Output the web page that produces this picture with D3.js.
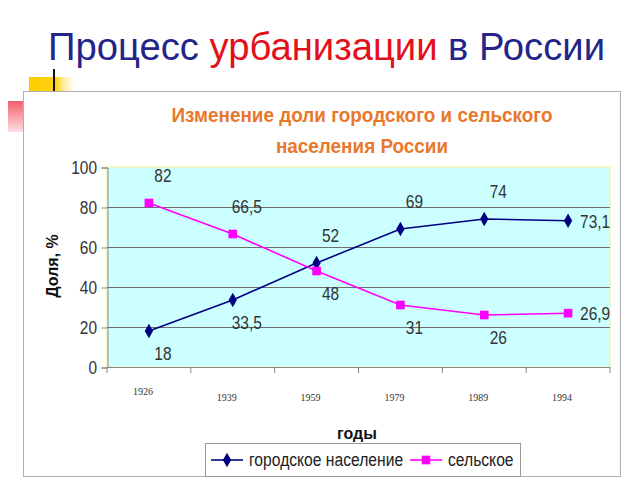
<!DOCTYPE html>
<html><head><meta charset="utf-8">
<script src="https://cdn.jsdelivr.net/npm/d3@7"></script>
<style>body{margin:0;background:#fff}svg{display:block}</style>
</head><body>
<script>
const years = ["1926","1939","1959","1979","1989","1994"];
const urban = [18, 33.5, 52, 69, 74, 73.1];
const rural = [82, 66.5, 48, 31, 26, 26.9];
const yTicks = [0, 20, 40, 60, 80, 100];
const seriesNames = ["городское население", "сельское"];
const titleParts = ["Процесс ", "урбанизации", " в России"];
const chartTitle = ["Изменение доли городского и сельского", "населения России"];
const yTitle = "Доля, %";
const xTitle = "годы";

const W = 640, H = 480;
const SANS = "Liberation Sans, Arial, sans-serif";
const svg = d3.select("body").append("svg").attr("width", W).attr("height", H);
const defs = svg.append("defs");
const gy = defs.append("linearGradient").attr("id","gy");
gy.append("stop").attr("offset","0%").attr("stop-color","#ffcc00");
gy.append("stop").attr("offset","55%").attr("stop-color","#ffd21a");
gy.append("stop").attr("offset","100%").attr("stop-color","#fff").attr("stop-opacity",0);
const gr = defs.append("linearGradient").attr("id","gr").attr("x1",0).attr("y1",0).attr("x2",0).attr("y2",1);
gr.append("stop").attr("offset","0%").attr("stop-color","#f2606a");
gr.append("stop").attr("offset","100%").attr("stop-color","#fde0e2");

// narrow text helper: places text at (x,y) and compresses it horizontally
function narrow(parent, x0, y0, sx, txt, size, anchor, fill, weight) {
  return parent.append("text")
    .attr("transform", `translate(${x0},${y0}) scale(${sx},1)`)
    .attr("text-anchor", anchor || "start")
    .attr("font-family", SANS).attr("font-size", size)
    .attr("font-weight", weight || "normal")
    .attr("fill", fill || "#333").text(txt);
}

// decorations
svg.append("rect").attr("x",29).attr("y",77).attr("width",50).attr("height",14).attr("fill","url(#gy)");
svg.append("rect").attr("x",8).attr("y",101).attr("width",15).attr("height",31).attr("fill","url(#gr)");
svg.append("line").attr("x1",54).attr("x2",54).attr("y1",69).attr("y2",91).attr("stroke","#111").attr("stroke-width",2);

// main title
const tt = svg.append("text").attr("x",48).attr("y",60)
  .attr("font-family",SANS).attr("font-size",38)
  .attr("textLength",557).attr("lengthAdjust","spacingAndGlyphs");
const tcols = ["#24248a","#e3101c","#24248a"];
titleParts.forEach((p,i)=> tt.append("tspan").attr("fill",tcols[i]).text(p));

// chart frame
svg.append("rect").attr("x",23.5).attr("y",91.5).attr("width",597).attr("height",385)
  .attr("fill","#fff").attr("stroke","#b0b0b0");

// chart title
chartTitle.forEach((t,i)=> narrow(svg, 362, 122+i*31, 0.9, t, 21, "middle", "#e8782c", "bold"));

const x = d3.scaleBand().domain(years).range([107,610]).padding(0);
const y = d3.scaleLinear().domain([0,100]).range([367,167]);
const cx = d => x(d) + x.bandwidth()/2;

// plot area
svg.append("rect").attr("x",107).attr("y",167).attr("width",503).attr("height",200)
  .attr("fill","#ccffff").attr("stroke","#f4f4b8").attr("stroke-width",1.5);
svg.selectAll(".grid").data(yTicks.filter(t=>t>0 && t<100)).join("line")
  .attr("x1",107).attr("x2",610).attr("y1",d=>y(d)+0.5).attr("y2",d=>y(d)+0.5)
  .attr("stroke","#6e6e6e").attr("stroke-width",1);

// y axis
const yAxis = d3.axisLeft(y).tickValues(yTicks).tickSize(6).tickFormat("");
const ga = svg.append("g").attr("transform","translate(107.5,0.5)").call(yAxis);
ga.select(".domain").attr("stroke","#888");
ga.selectAll(".tick line").attr("stroke","#888");
yTicks.forEach(t=> narrow(svg, 97, y(t)+6.5, 0.86, String(t), 18, "end", "#333"));

// x axis
svg.append("line").attr("x1",107).attr("x2",610).attr("y1",367.5).attr("y2",367.5).attr("stroke","#888");
svg.selectAll(".xt").data(years.concat(["end"])).join("line")
  .attr("x1",d=> d==="end"? x.range()[1] : x(d)).attr("x2",d=> d==="end"? x.range()[1] : x(d))
  .attr("y1",367).attr("y2",373).attr("stroke","#888");
svg.selectAll(".xl").data(years).join("text")
  .attr("x",d=>cx(d)-6).attr("y",(d,i)=> i===0 ? 395 : 401).attr("text-anchor","middle")
  .attr("font-family","Liberation Serif, Times New Roman, serif").attr("font-size",10).attr("fill","#333")
  .text(d=>d);

// axis titles
svg.append("text").attr("transform","translate(58,266) rotate(-90)").attr("text-anchor","middle")
  .attr("font-family",SANS).attr("font-weight","bold").attr("font-size",16)
  .attr("fill","#111").text(yTitle);
svg.append("text").attr("x",357).attr("y",439).attr("text-anchor","middle")
  .attr("font-family",SANS).attr("font-weight","bold").attr("font-size",16)
  .attr("fill","#111").text(xTitle);

// series
const series = [
  {name: seriesNames[0], values: urban, other: rural, color:"#000080", shape: d3.symbolDiamond, size: 60},
  {name: seriesNames[1], values: rural, other: urban, color:"#ff00ff", shape: d3.symbolSquare, size: 75}
];
const line = d3.line().x((d,i)=>cx(years[i])).y(d=>y(d));
const fmt = v => String(v).replace(".", ",");
const last = years.length - 1;
series.forEach(s=>{
  svg.append("path").attr("d", line(s.values)).attr("fill","none").attr("stroke",s.color).attr("stroke-width",1.6);
  svg.selectAll(null).data(s.values).join("path")
    .attr("transform",(d,i)=>`translate(${cx(years[i])},${y(d)})`)
    .attr("d", d3.symbol().type(s.shape).size(s.size)).attr("fill",s.color);
  s.values.forEach((d,i)=>{
    if (i === last) narrow(svg, cx(years[i])+12, y(d)+7, 0.86, fmt(d), 18, "start", "#333");
    else narrow(svg, cx(years[i])+14, d > s.other[i] ? y(d)-21 : y(d)+29, 0.86, fmt(d), 18, "middle", "#333");
  });
});

// legend
svg.append("rect").attr("x",205.5).attr("y",443.5).attr("width",315).attr("height",33)
  .attr("fill","#fff").attr("stroke","#999");
const lx = [211, 410], tx = [249, 448];
series.forEach((s,i)=>{
  svg.append("line").attr("x1",lx[i]).attr("x2",lx[i]+32).attr("y1",460).attr("y2",460)
    .attr("stroke",s.color).attr("stroke-width",1.6);
  svg.append("path").attr("transform",`translate(${lx[i]+16},460)`)
    .attr("d", d3.symbol().type(s.shape).size(s.size)).attr("fill",s.color);
  narrow(svg, tx[i], 466, 0.87, s.name, 18, "start", "#222");
});
</script>
</body></html>
